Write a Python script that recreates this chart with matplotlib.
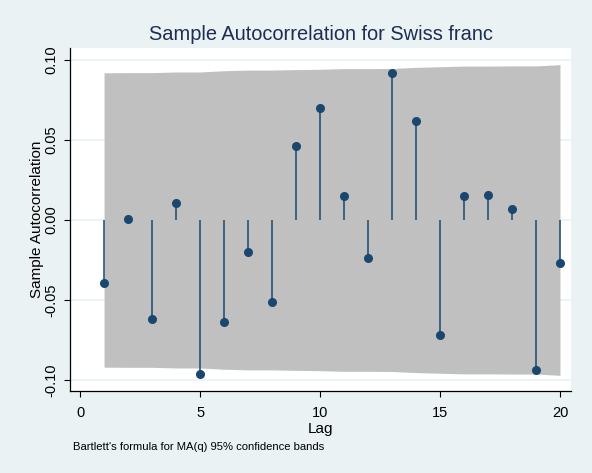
import numpy as np
import matplotlib
matplotlib.use("Agg")
import matplotlib.pyplot as plt

plt.rcParams['font.family'] = ['Liberation Sans', 'DejaVu Sans']

# autocorrelations
lags = list(range(1, 21))
acf = [-0.0396, 0.0004, -0.0618, 0.0106, -0.0960, -0.0635, -0.0200, -0.0510,
       0.0460, 0.0700, 0.0152, -0.0237, 0.0920, 0.0617, -0.0720, 0.0148,
       0.0158, 0.0066, -0.0940, -0.0270]
# half-width of the confidence band at each lag
band = [0.0920, 0.0921, 0.0921, 0.0925, 0.0925, 0.0933, 0.0937, 0.0937,
        0.0940, 0.0942, 0.0946, 0.0946, 0.0947, 0.0954, 0.0958, 0.0962,
        0.0962, 0.0963, 0.0963, 0.0971]
xticks = [0, 5, 10, 15, 20]
yticks = [-0.10, -0.05, 0.00, 0.05, 0.10]

navy = '#1a476f'
bg = '#eaf2f3'

fig = plt.figure(figsize=(5.92, 4.73), dpi=100, facecolor=bg)
ax = fig.add_axes([70 / 592, 1 - 391 / 473, 501 / 592, 343 / 473])
ax.set_facecolor('white')

band = np.array(band)
ax.fill_between(lags, -band, band, color='#c0c0c0', lw=0, zorder=1)
ax.vlines(lags, 0, acf, color=navy, lw=1.1, zorder=2)
ax.plot(lags, acf, 'o', color=navy, ms=5.5, zorder=3)

ax.set_xlim(-0.42, 20.46)
ax.set_ylim(-0.1069, 0.1075)
ax.set_xticks(xticks)
ax.set_yticks(yticks)
ax.set_yticklabels(['%.2f' % v for v in yticks], rotation=90, va='center')
ax.yaxis.grid(True, color=bg, lw=1.2, zorder=0)
ax.set_axisbelow(True)

for s in ['top', 'right']:
    ax.spines[s].set_visible(False)
for s in ['left', 'bottom']:
    ax.spines[s].set_linewidth(0.9)
ax.tick_params(direction='out', length=4.5, width=0.8, labelsize=10.5, pad=4)
ax.tick_params(axis='x', pad=6)

ax.set_xlabel('Lag', fontsize=11, labelpad=2)
ax.set_ylabel('Sample Autocorrelation', fontsize=11, labelpad=0)
ax.set_title('Sample Autocorrelation for Swiss franc', fontsize=14.4,
             color='#1e2d53', pad=6)
fig.text(73 / 592, 1 - 447 / 473, "Bartlett's formula for MA(q) 95% confidence bands",
         fontsize=8.1, va='center', ha='left')

fig.savefig('out.png', dpi=100, facecolor=bg)
